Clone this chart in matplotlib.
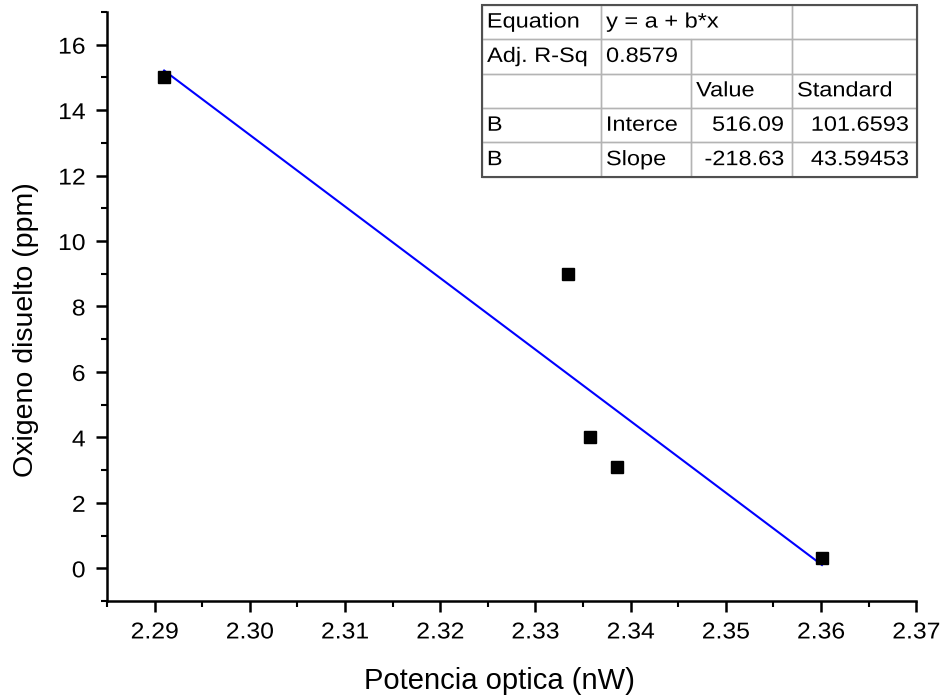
import numpy as np
import matplotlib
matplotlib.use("Agg")
import matplotlib.pyplot as plt
from matplotlib.patches import Rectangle
from matplotlib.patheffects import AbstractPathEffect
from matplotlib.transforms import Affine2D

plt.rcParams['font.family'] = ['Liberation Sans', 'DejaVu Sans']

# data
potencia = [2.291, 2.3334, 2.3357, 2.3386, 2.3601]
oxigeno = [15.0, 9.0, 4.0, 3.1, 0.3]

# fit results shown in the table
intercept = 516.09
slope = -218.63

table_rows = [
    ["Equation", "y = a + b*x", "", ""],
    ["Adj. R-Sq", "0.8579", "", ""],
    ["", "", "Value", "Standard"],
    ["B", "Interce", "516.09", "101.6593"],
    ["B", "Slope", "-218.63", "43.59453"],
]
col_px = [119, 90, 101, 125]


class Stretch(AbstractPathEffect):
    # the original export has slightly wide lettering, stretch text horizontally
    def __init__(self, sx, anchor='center'):
        super().__init__()
        self.sx = sx
        self.anchor = anchor

    def draw_path(self, renderer, gc, tpath, affine, rgbFace=None):
        ext = affine.transform_path(tpath).get_extents()
        if self.anchor == 'left':
            x0 = ext.x0
        elif self.anchor == 'right':
            x0 = ext.x1
        else:
            x0 = (ext.x0 + ext.x1) / 2
        aff = affine + Affine2D().translate(-x0, 0).scale(self.sx, 1).translate(x0, 0)
        renderer.draw_path(gc, tpath, aff, rgbFace)


fig = plt.figure(figsize=(9.47, 7.0), dpi=100)
ax = fig.add_axes([0.113, 0.1414, 0.8545, 0.8416])

xfit = np.array([min(potencia), max(potencia)])
ax.plot(xfit, intercept + slope * xfit, color='#0000ff', lw=1.5, zorder=2)
ax.plot(potencia, oxigeno, 's', color='black', ms=8.5, zorder=3)

ax.set_xlim(2.285, 2.37)
ax.set_ylim(-1, 17)
xt = np.arange(2.29, 2.3701, 0.01)
ax.set_xticks(xt)
ax.set_xticklabels([f"{v:.2f}" for v in xt])
ax.set_xticks(np.arange(2.285, 2.3701, 0.005), minor=True)
ax.set_yticks(np.arange(0, 17, 2))
ax.set_yticks(np.arange(-1, 17.01, 1), minor=True)

for s in ['top', 'right']:
    ax.spines[s].set_visible(False)
for s in ['left', 'bottom']:
    ax.spines[s].set_linewidth(1.8)

ax.tick_params(which='major', direction='out', length=8, width=1.8, labelsize=16.5)
ax.tick_params(axis='x', which='major', pad=6)
ax.tick_params(axis='y', which='major', pad=7.5)
ax.tick_params(which='minor', direction='out', length=4.5, width=1.5)

ax.set_xlabel("Potencia optica (nW)", fontsize=21)
ax.set_ylabel("Oxigeno disuelto (ppm)", fontsize=20.5)
ax.xaxis.set_label_coords(0.4845, -0.112)
ax.yaxis.set_label_coords(-0.084, 0.46)

# fit table
bbox = [0.4635, 0.72, 0.5377, 0.292]
tab = ax.table(cellText=table_rows, bbox=bbox, colWidths=col_px,
               cellLoc='left', zorder=5)
tab.auto_set_font_size(False)
tab.set_fontsize(15)
for (r, c), cell in tab.get_celld().items():
    cell.set_edgecolor('#b4b4b4')
    cell.set_linewidth(1.0)
    cell.set_facecolor('none')
    if r >= 3 and c >= 2:
        cell._loc = 'right'
        cell.get_text().set_ha('right')
        cell.PAD = 8 / col_px[c]
        cell.get_text().set_path_effects([Stretch(1.13, 'right')])
    else:
        cell.PAD = 5 / col_px[c]
        cell.get_text().set_path_effects([Stretch(1.13, 'left')])
# first row: equation spans two columns
tab[0, 1].visible_edges = 'BTL'
tab[0, 2].visible_edges = 'BTR'
ax.add_patch(Rectangle((bbox[0], bbox[1]), bbox[2], bbox[3], transform=ax.transAxes,
                       facecolor='white', edgecolor='none', zorder=4, clip_on=False))
ax.add_patch(Rectangle((bbox[0], bbox[1]), bbox[2], bbox[3], transform=ax.transAxes,
                       fill=False, edgecolor='#505050', lw=1.5, zorder=6, clip_on=False))

fig.canvas.draw()
for t in ax.get_xticklabels():
    t.set_path_effects([Stretch(1.08, 'center')])
for t in ax.get_yticklabels():
    t.set_path_effects([Stretch(1.08, 'right')])

fig.savefig("out.png", dpi=100)
